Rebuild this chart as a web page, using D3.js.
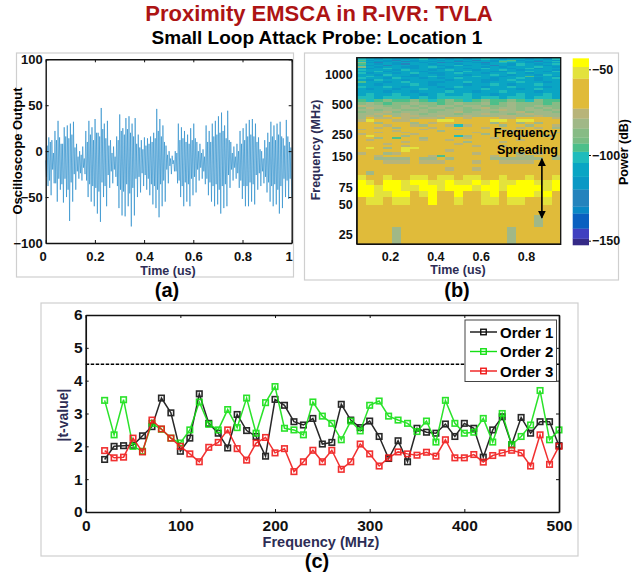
<!DOCTYPE html>
<html>
<head>
<meta charset="utf-8">
<script src="https://cdn.jsdelivr.net/npm/d3@7"></script>
<style>
  html, body { margin: 0; background: #fff; }
  text { font-family: "Liberation Sans", Arial, sans-serif; font-weight: bold; }
  .axis path, .axis line { stroke: #111; }
  .axis text { fill: #111; }
</style>
</head>
<body>
<svg width="639" height="572"></svg>
<script>
// panel (a): oscilloscope trace. outer swings (peak, trough per cycle)
const waveSamples = [
  -10,-38,15,-48,12,-35,22,-55,33,-42,
  8,-56,26,-50,28,-76,30,-55,32,-42,
  8,-30,0,-32,5,-25,22,-50,33,-55,
  26,-60,35,-68,20,-77,47,-50,30,-60,
  33,-40,12,-35,5,-28,16,-62,40,-70,
  25,-71,36,-60,38,-82,30,-70,36,-50,
  18,-45,12,-38,15,-42,14,-48,16,-58,
  20,-62,46,-72,35,-60,28,-55,6,-35,
  0,-25,-5,-22,0,-35,30,-50,26,-60,
  22,-55,18,-60,25,-48,30,-45,10,-32,
  8,-30,2,-36,28,-48,22,-55,30,-60,
  33,-58,38,-68,42,-62,28,-60,44,-40,
  10,-32,5,-30,8,-40,22,-52,25,-60,
  30,-60,34,-55,35,-58,30,-42,15,-38,
  0,-35,12,-45,20,-55,32,-60,28,-58,
  30,-68,32,-62,14,-50,34,-52,10,-50
];
// smaller inner swing inside each cycle (low, high)
const waveInner = [
  -28,6,-32,10,-20,-2,-35,12,-30,15,
  -36,8,-30,16,-42,14,-34,18,-25,4,
  -22,-6,-24,-4,-18,-8,-32,10,-36,18,
  -38,12,-40,20,-44,16,-34,24,-38,14,
  -26,6,-22,-2,-20,-6,-38,12,-42,22,
  -44,18,-36,24,-46,20,-40,16,-30,8,
  -28,4,-24,2,-26,6,-30,8,-36,10,
  -38,14,-42,22,-36,16,-32,10,-20,-4,
  -16,-8,-14,-10,-22,-2,-32,12,-38,14,
  -34,10,-36,8,-30,12,-28,14,-20,0,
  -18,-2,-22,-6,-30,10,-34,10,-38,16,
  -36,18,-42,20,-38,22,-36,14,-26,12,
  -20,-2,-18,-6,-24,0,-32,8,-38,12,
  -38,16,-34,18,-36,16,-26,10,-24,2,
  -22,-8,-28,4,-34,10,-38,16,-36,12,
  -42,18,-38,16,-30,6,-32,16,-30,4
];
const waveTrace = d3.merge(d3.range(waveSamples.length / 2).map(i =>
    [waveSamples[2 * i], waveInner[2 * i], waveInner[2 * i + 1], waveSamples[2 * i + 1]]));

// panel (b): spectrogram. one letter per time bin, one string per frequency band
const timeEdges = [0.053, 0.953];
const freqEdges = [20,30,40,50,60,70,80,90,100,110,120,130,140,150,160,170,180,190,200,210,220,230,240,250,260,270,280,290,300,
  320,340,360,380,400,420,440,460,480,500,
  540,580,620,660,700,740,780,820,860,900,940,980,1020,1060,1100,1140,1180,1220,1260,1300,1340,1380,1420,1464];
const heatRows = [
  "GGGGSGGGGGGGGGGGGSGGGGG",
  "GGGGGGGGGGGGGGGGGGGGSGG",
  "GGGGGGGGGGGGGGGGGGGGGGG",
  "GLLGLLGGYGGLGGLLGLLGGLG",
  "YYLLYYGLYGGYGGLYGYYYLYG",
  "YYLYYLLYYLYYYLYYLYYYYLY",
  "YLGYYLYYLLYLLYLYLLYYLLY",
  "LGGLGGLLGLLGLLGGLGGLGGL",
  "GSGGGGGGGGGGGGGGGGGGGGG",
  "GGGGGGGGGGTGGTGGGGGGGGG",
  "GGGGGGGGGGGGGGGGGGGGGGG",
  "GGGTTTGTTTGGGTGGTTTTGGG",
  "GGSSSSGSSGSGGGGSSSSSSGS",
  "GGTGGGGGTEGGGGGTGGTSGGT",
  "TGGSTGGGGGGGGTGGGGSGTGG",
  "GGGGGLGGGGTGGGGGGGGGGGG",
  "GLGSGLLGGGGGGGGGGGGGGGG",
  "GGGGGTGGGGGGGTGGTGGGGGG",
  "GGGTGGGGGGGTGGGGGGGGGGG",
  "GGGGGTGGGGGGSGGGTGGGGGG",
  "GTGGGGGTGGTGGGGGGGTGGGG",
  "GGSGEGGSGGGGTGGTGGGGGGG",
  "GLGGGSGGGGGCSGGGGGTGGSG",
  "TGGGGGTGGGGGGGSGGGGGGGG",
  "GGTGGTGGGGGGGTGGGGGTGGT",
  "GGGGTGGGGSGGGGGGGTGGGGG",
  "TGGGGGGTGGGTGGGGTGGGGGG",
  "GGTGSGGGTGGGGGTGGGTGTGS",
  "GGGTGGTSGGTCTGGGSGGSGGT",
  "GGSGGGSGTGGGGGGSGGSGSGG",
  "TLGGTTGGGLLGGGGLLGLLGGG",
  "SGTTGTSTTSGGTGGGTTGGGGT",
  "STSGSTTSSTSSTSSSTTSSTSS",
  "SSTSSTSMSSSMSSTSSMSTSSS",
  "MSSTMSSSMSSTMSSMSSTMSSM",
  "SSMSSMMSMMSSMMSSTSMSSMS",
  "MTSSMSSMSSMSMSTMSSMSMSM",
  "TSSMMSMSMSSMSSMMMSMMSMM",
  "MSMEMMSMMEMSMMSEMSMMMEM",
  "ECEMEEMECEMECEMEEMECMEE",
  "CCBCCCBCBCCCCBCCBCCBCCB",
  "BCBBCBBDBCBBCBBDBBCBBCB",
  "BBBDBBDBBBCBBDBBCBBBDBB",
  "BDBBDBBCBBDBBBCBBBDBCBB",
  "CBBCBDBBBDBCBBDBBCBBBDB",
  "BBDBBBCBDBBBDBBCBDBBCBB",
  "EBBDBCBBDDBBCBDBBBCBBDB",
  "BDCBBDBBBBDBBBDDBCBBDBB",
  "CBBDCBBDBDBCBBBDBBCBDBC",
  "BCBBBDDBCBBDBCBBDBBEBBD",
  "BBDCBBDBBDBBDBBCBDBBDCB",
  "CDBBDBCBDDBCBBDBBCBDBBB",
  "BBCDBBBDBBBDCBBDDBBCBDC",
  "CBBBDCBBDBCBBDBBCBDBBBD",
  "BDBCBBDBBDBBDBCBBDBCDBB",
  "MBDBBDDBCBDBBBDBDBBBCBD",
  "CDBFBBDBBDBCDBBFBDCBBDB",
  "EBDBDFBBDBBDBBDBBDCBDBC",
  "MDFBDBBDBFDBBDFBCBBDBDB",
  "CBDDBFDBDBBFDBBDECBDFBC",
  "EDBDFBDBBDBDBFBDCEDBDBD",
  "CBDBDDBCDBDBDBCBDBBDBDC"
];
const levelCodes = ["Q","P","I","H","F","D","B","C","E","N","M","S","T","G","L","Y"];
const levelColors = ["#352a87","#4040c0","#0a60c0","#0a88c5","#2483bd","#0a98c5","#0aa5c4","#20bcbc","#4cbf8a","#78bc84","#87bb85","#a0b887","#b8b479","#e0bb3a","#e3e23c","#ffff00"];
const levelStops = [-152.5,-148.7,-142.8,-134,-130,-120,-112.6,-104.5,-98,-93.2,-89.7,-84.4,-78.6,-72.8,-55.3,-48.5,-43.6];

// panel (c)
const freqs = d3.range(20, 501, 10);
const order1 = [1.6,2.0,2.02,2.03,2.32,2.6,3.47,3.02,1.85,2.25,3.6,2.7,2.4,1.95,2.97,2.48,2.3,1.7,3.43,3.25,2.75,2.65,2.85,2.07,2.12,3.28,2.8,2.57,2.77,2.3,1.63,2.17,1.53,2.55,2.43,2.4,2.68,2.3,2.7,2.55,1.67,2.5,2.9,2.05,2.88,2.4,2.75,2.75,2.02];
const order2 = [3.4,2.35,3.42,2.0,1.85,2.7,2.52,2.25,2.1,2.5,3.35,2.67,2.5,3.12,2.57,3.47,2.4,3.33,3.82,2.55,2.5,2.35,3.35,2.92,2.7,2.2,2.77,2.47,3.25,3.38,2.92,2.8,2.7,2.45,2.77,2.13,3.4,2.7,2.4,2.43,2.85,2.13,3.0,2.05,2.3,2.65,3.7,2.2,2.5];
const order3 = [1.87,1.65,1.67,2.25,1.83,2.8,2.53,2.25,2.0,1.77,1.53,1.97,2.12,2.5,1.93,1.58,2.1,2.27,1.8,1.93,1.23,1.53,1.88,1.53,1.88,1.3,1.53,2.07,1.77,1.4,1.65,1.83,1.77,1.73,1.82,1.7,2.2,1.65,1.65,1.75,1.52,1.72,1.8,1.88,1.8,1.4,2.35,1.45,2.0];
const orderNames = ["Order 1","Order 2","Order 3"];
const threshold = 4.5;

const svg = d3.select("svg");
const navy = "#2d2d55";

const label = (x, y, txt, size, opts = {}) => svg.append("text")
    .attr("x", x).attr("y", y)
    .attr("text-anchor", opts.anchor || "middle")
    .attr("dominant-baseline", "central")
    .attr("transform", opts.rotate ? `rotate(-90 ${x} ${y})` : null)
    .attr("fill", opts.fill || "#000")
    .style("font-size", size + "px")
    .text(txt);

label(319, 13, "Proximity EMSCA in R-IVR: TVLA", 22, {fill: "#ad1414"});
label(317, 37, "Small Loop Attack Probe: Location 1", 19);

// light boxes round the panels
const boxes = [[16.5,53,277,224],[304.5,53,314,227],[41,303,537,253]];
svg.selectAll("rect.box").data(boxes).enter().append("rect")
    .attr("class", "box")
    .attr("x", d => d[0]).attr("y", d => d[1])
    .attr("width", d => d[2]).attr("height", d => d[3])
    .attr("fill", "none").attr("stroke", "#cfcfcf").attr("stroke-width", 1.2);

// box with inward ticks on all four sides
const addFrame = (x, y, xTicks, yTicks, fontSize, lineWidth) => {
    const g = svg.append("g");
    const [x0, x1] = x.range(), [y0, y1] = y.range();
    const bottom = g.append("g").attr("class", "axis").attr("transform", `translate(0,${y0})`)
        .call(d3.axisBottom(x).tickValues(xTicks).tickSize(-3).tickSizeOuter(0).tickPadding(6).tickFormat(d3.format("~g")));
    const left = g.append("g").attr("class", "axis").attr("transform", `translate(${x0},0)`)
        .call(d3.axisLeft(y).tickValues(yTicks).tickSize(-3).tickSizeOuter(0).tickPadding(3).tickFormat(d3.format("~g")));
    g.append("g").attr("class", "axis").attr("transform", `translate(0,${y1})`)
        .call(d3.axisTop(x).tickValues(xTicks).tickSize(-3).tickSizeOuter(0).tickFormat(""));
    g.append("g").attr("class", "axis").attr("transform", `translate(${x1},0)`)
        .call(d3.axisRight(y).tickValues(yTicks).tickSize(-3).tickSizeOuter(0).tickFormat(""));
    g.selectAll("path").attr("stroke-width", lineWidth);
    g.selectAll("text").style("font-size", fontSize + "px");
    return {bottom, left};
};

// (a)
const xA = d3.scaleLinear().domain([0, 1]).range([45.7, 291.7]);
const yA = d3.scaleLinear().domain([-100, 100]).range([243, 59.3]);
const waveLine = d3.line().x((d, i) => xA(i / (waveTrace.length - 1))).y(d => yA(d));
svg.append("path").attr("d", waveLine(waveTrace))
    .attr("fill", "none").attr("stroke", "#1482c6").attr("stroke-width", 0.7).attr("stroke-opacity", 0.8);
const axesA = addFrame(xA, yA, d3.range(0, 1.01, 0.2), d3.range(-100, 101, 50), 13, 1.4);
axesA.bottom.selectAll("text").attr("y", 9);
// end labels sit a little left of their ticks in the original
axesA.bottom.selectAll("text").filter(d => d === 0 || d >= 1).attr("dx", "-3");
label(168, 271, "Time (us)", 12.5, {fill: navy});
label(17, 151, "Oscilloscope Output", 13, {rotate: true});
label(167, 290, "(a)", 20);

// (b)
const xB = d3.scaleLinear().domain(timeEdges).range([356.7, 560.7]);
const yB = d3.scaleLog().domain([20.3, 1464]).range([244, 57.7]);
const levelColor = d3.scaleOrdinal().domain(levelCodes).range(levelColors);
const timeStep = (timeEdges[1] - timeEdges[0]) / heatRows[0].length;
const cells = heatRows.flatMap((row, r) => row.split("").map((code, c) => ({code, r, c})));
svg.append("g").attr("shape-rendering", "crispEdges").selectAll("rect").data(cells).enter().append("rect")
    .attr("x", d => xB(timeEdges[0] + d.c * timeStep))
    .attr("width", d => xB(timeEdges[0] + (d.c + 1) * timeStep) - xB(timeEdges[0] + d.c * timeStep))
    .attr("y", d => yB(freqEdges[d.r + 1]))
    .attr("height", d => yB(freqEdges[d.r]) - yB(freqEdges[d.r + 1]) + 0.5)
    .attr("fill", d => levelColor(d.code));

const binAxisBottom = d3.axisBottom(xB).tickValues([0.2, 0.4, 0.6, 0.8]).tickSize(0).tickPadding(5).tickFormat(d3.format("~g"));
const binAxisLeft = d3.axisLeft(yB).tickValues([25, 50, 75, 150, 250, 500, 1000]).tickSize(0).tickPadding(4).tickFormat(d3.format("d"));
const gbx = svg.append("g").attr("class", "axis").attr("transform", "translate(0,244)").call(binAxisBottom);
const gby = svg.append("g").attr("class", "axis").attr("transform", "translate(356.7,0)").call(binAxisLeft);
gbx.selectAll("text").style("font-size", "12.5px").attr("dy", "0.95em");
gby.selectAll("text").style("font-size", "12.5px");
svg.append("rect").attr("x", 356.7).attr("y", 57.7).attr("width", 204).attr("height", 186.3)
    .attr("fill", "none").attr("stroke", "#111").attr("stroke-width", 1.3);

svg.append("defs").append("marker").attr("id", "head")
    .attr("viewBox", "0 0 10 10").attr("refX", 9).attr("refY", 5)
    .attr("markerWidth", 8).attr("markerHeight", 8).attr("orient", "auto-start-reverse")
    .attr("markerUnits", "userSpaceOnUse")
  .append("path").attr("d", "M0,0L10,5L0,10Z").attr("fill", "#000");
svg.append("line")
    .attr("x1", xB(0.87)).attr("x2", xB(0.87))
    .attr("y1", yB(144)).attr("y2", yB(37))
    .attr("stroke", "#000").attr("stroke-width", 1.6)
    .attr("marker-start", "url(#head)").attr("marker-end", "url(#head)");
label(557, 133, "Frequency", 12.5, {anchor: "end"});
label(558, 149.5, "Spreading", 12.5, {anchor: "end"});

label(458, 270, "Time (us)", 12.5, {fill: navy});
label(316, 150, "Frequency (MHz)", 12.5, {rotate: true, fill: navy});
label(457, 290, "(b)", 20);

// colour bar
const yBar = d3.scaleLinear().domain([-150, -50]).range([240.7, 69.3]);
svg.append("g").selectAll("rect").data(levelColors).enter().append("rect")
    .attr("x", 572.7).attr("width", 16.3)
    .attr("y", (d, i) => yBar(levelStops[i + 1]))
    .attr("height", (d, i) => yBar(levelStops[i]) - yBar(levelStops[i + 1]) + 0.3)
    .attr("fill", d => d);
const gBar = svg.append("g").attr("class", "axis").attr("transform", "translate(589,0)")
    .call(d3.axisRight(yBar).tickValues([-150, -100, -50]).tickSize(2).tickPadding(1).tickFormat(d3.format("d")));
gBar.select("path").remove();
gBar.selectAll("text").style("font-size", "12.5px");
label(624, 152, "Power (dB)", 12.5, {rotate: true});

// (c)
const xC = d3.scaleLinear().domain([0, 500]).range([85.7, 559]);
const yC = d3.scaleLinear().domain([0, 6]).range([512, 315]);
const seriesValues = [order1, order2, order3];
const seriesColor = d3.scaleOrdinal().domain(orderNames).range(["#111111", "#14e014", "#f01a1a"]);

svg.append("line")
    .attr("x1", xC(0)).attr("x2", xC(500))
    .attr("y1", yC(threshold)).attr("y2", yC(threshold))
    .attr("stroke", "#000").attr("stroke-width", 1.5).attr("stroke-dasharray", "3.5,1.5");

const tLine = d3.line().x((d, i) => xC(freqs[i])).y(d => yC(d));
const marker = 5.5;
seriesValues.forEach((vals, s) => {
    const col = seriesColor(orderNames[s]);
    const g = svg.append("g").attr("opacity", 0.9);
    g.append("path").attr("d", tLine(vals)).attr("fill", "none").attr("stroke", col).attr("stroke-width", 1.5);
    g.selectAll("rect").data(vals).enter().append("rect")
        .attr("x", (d, i) => xC(freqs[i]) - marker / 2)
        .attr("y", d => yC(d) - marker / 2)
        .attr("width", marker).attr("height", marker)
        .attr("fill", "none").attr("stroke", col).attr("stroke-width", 1.6);
});

const axesC = addFrame(xC, yC, d3.range(0, 501, 100), d3.range(0, 7), 15.5, 1.7);
axesC.bottom.selectAll("text").attr("dy", "0.85em");
label(63, 415, "|t-value|", 14, {rotate: true, fill: navy});
label(321, 541.5, "Frequency (MHz)", 14.5, {fill: navy});
label(317, 561, "(c)", 20);

// legend
svg.append("rect").attr("x", 465).attr("y", 320).attr("width", 91.5).attr("height", 61.5)
    .attr("fill", "#fff").attr("stroke", "#444").attr("stroke-width", 1);
const legend = svg.append("g").selectAll("g").data(orderNames).enter().append("g")
    .attr("transform", (d, i) => `translate(470,${332 + i * 19.5})`);
legend.append("line").attr("x2", 27).attr("stroke", d => seriesColor(d)).attr("stroke-width", 1.4);
legend.append("rect").attr("x", 13.5 - marker / 2).attr("y", -marker / 2)
    .attr("width", marker).attr("height", marker)
    .attr("fill", "none").attr("stroke", d => seriesColor(d)).attr("stroke-width", 1.4);
legend.append("text").attr("x", 30).attr("dominant-baseline", "central")
    .style("font-size", "15px").text(d => d);
</script>
</body>
</html>
